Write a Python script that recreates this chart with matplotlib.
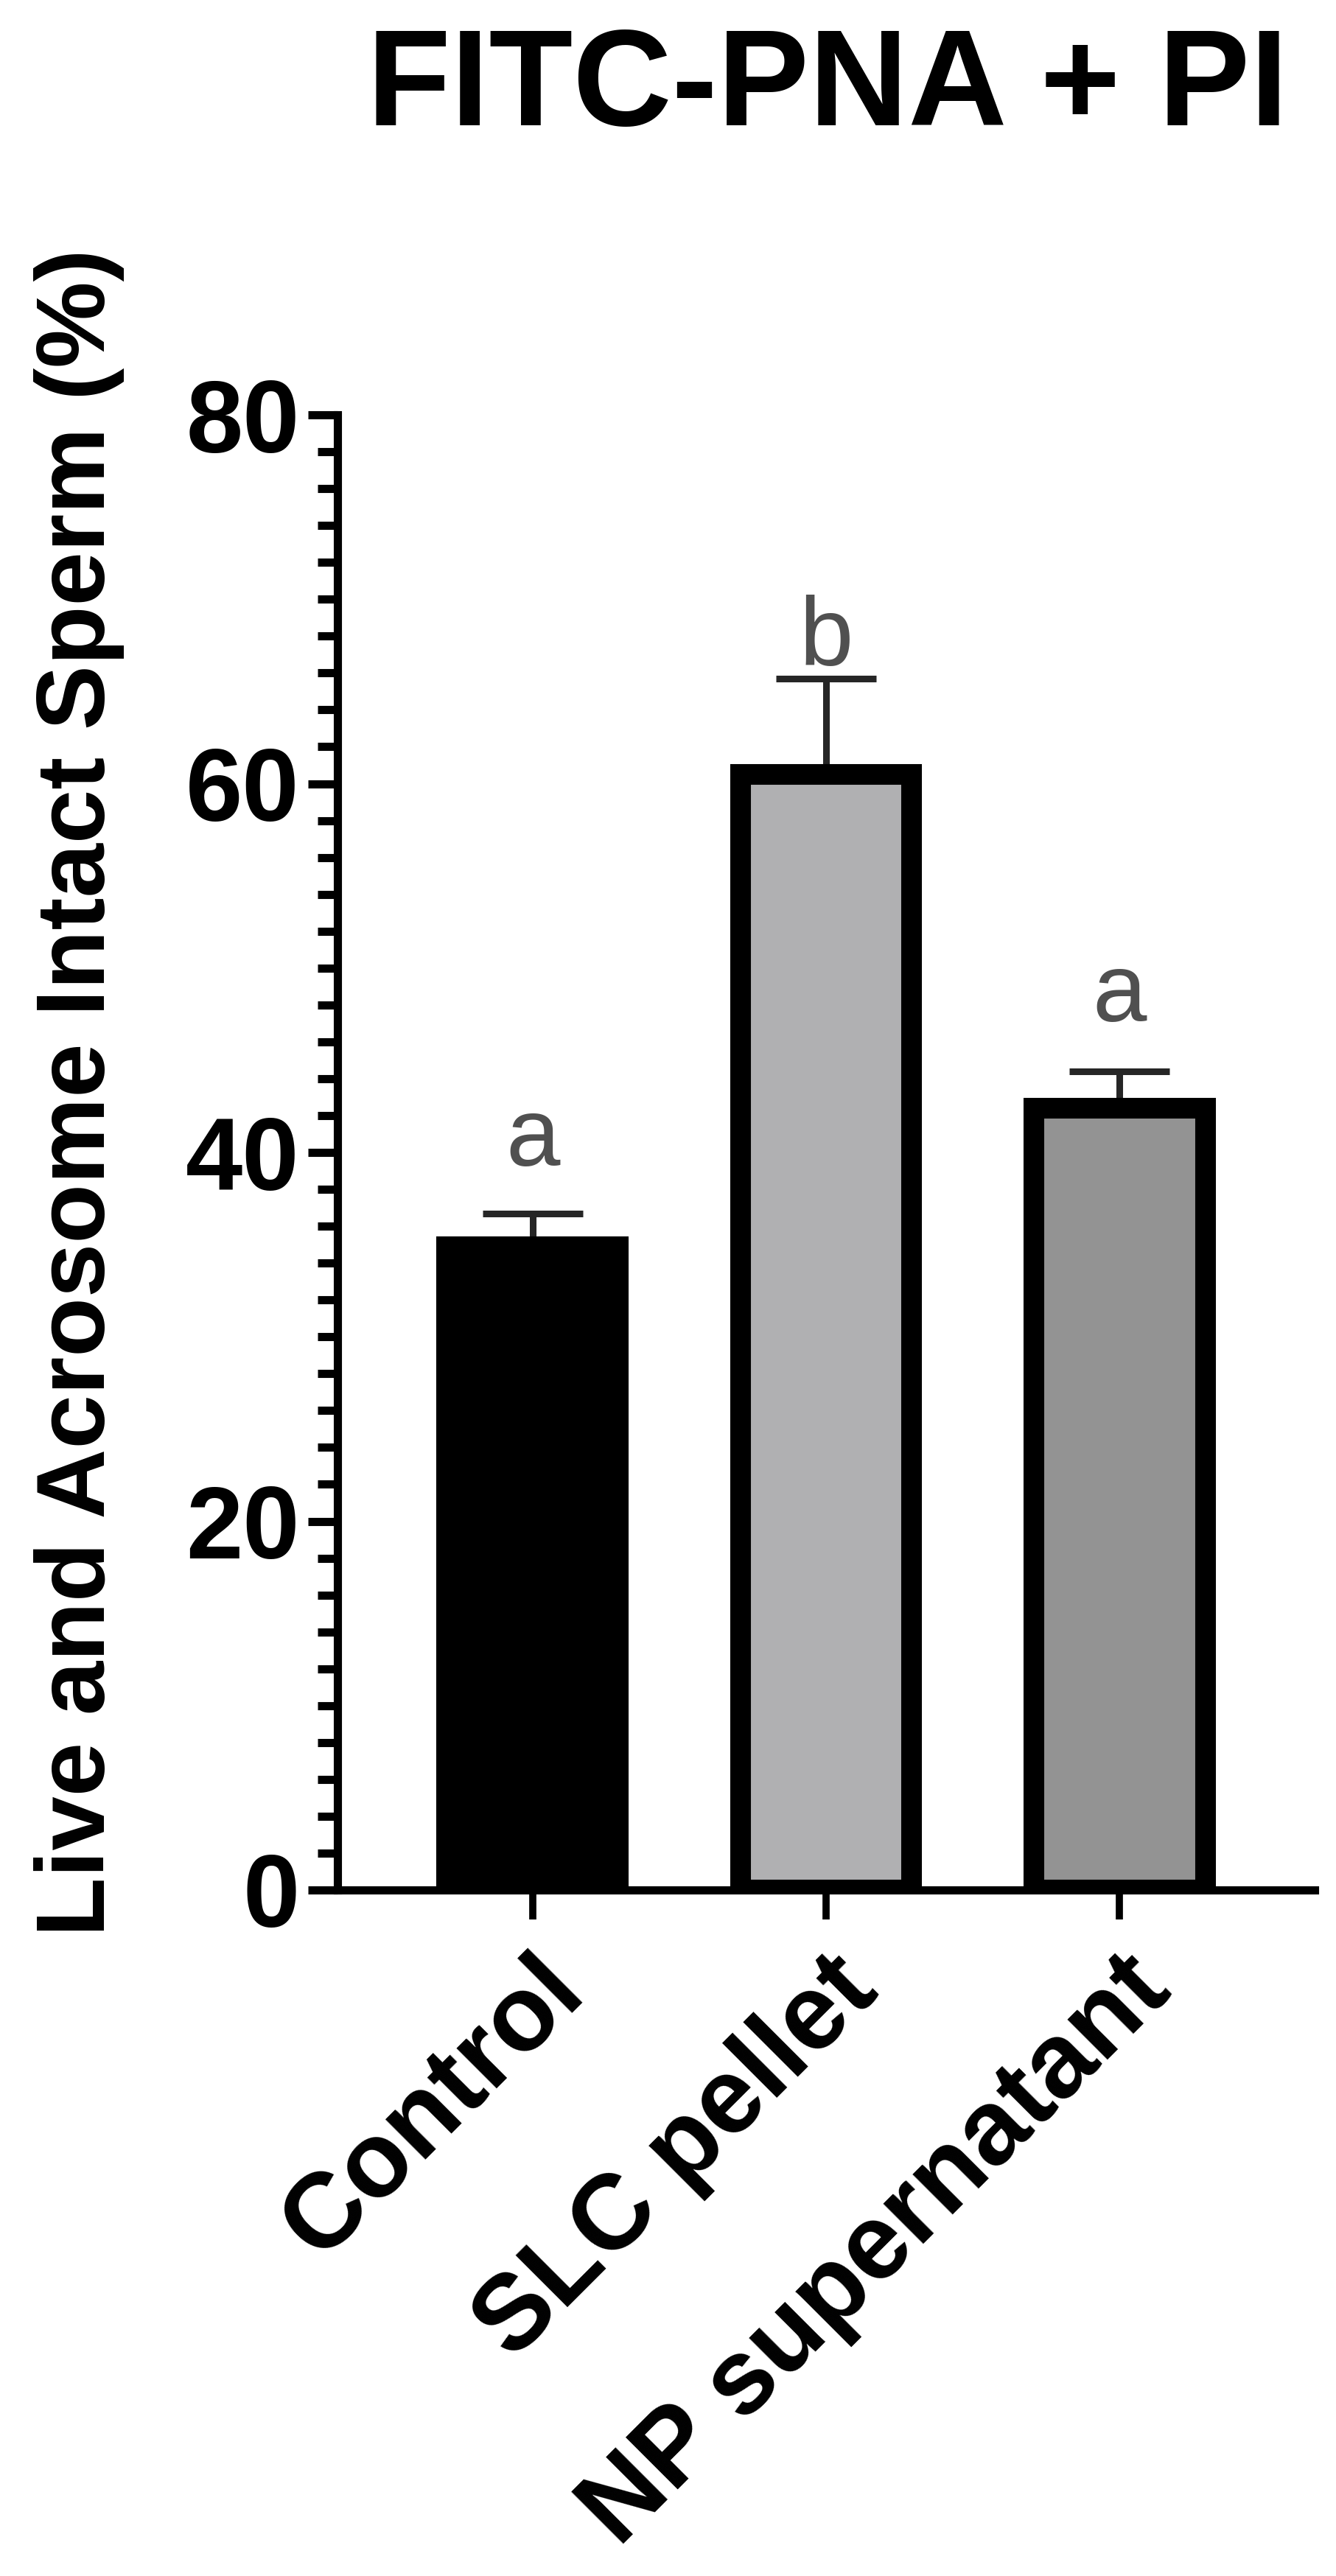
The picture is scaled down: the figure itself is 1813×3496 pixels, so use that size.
import matplotlib
matplotlib.use("Agg")
import matplotlib.pyplot as plt
from matplotlib.ticker import MultipleLocator
from matplotlib.transforms import ScaledTranslation

categories = ["Control", "SLC pellet", "NP supernatant"]
means = [34.9, 60.5, 42.4]
sem = [1.8, 5.2, 2.0]
letters = ["a", "b", "a"]
letter_y = [39.3, 66.4, 47.1]
fill_colors = ["#000000", "#b0b0b2", "#939393"]
yticks = [0, 20, 40, 60, 80]

W, H, DPI = 1813, 3496, 100
plt.rcParams['font.family'] = ['Liberation Sans', 'DejaVu Sans']
fig = plt.figure(figsize=(W / DPI, H / DPI), dpi=DPI)
ax = fig.add_axes([458 / W, 1 - 2565 / H, (1784 - 458) / W, (2565 - 563) / H])

x = list(range(len(categories)))
ax.bar(x, means, width=0.585, color=fill_colors, edgecolor="black",
       linewidth=20.2, zorder=3)
ax.errorbar(x, means, yerr=[[0] * len(sem), sem], fmt="none",
            ecolor="#262626", elinewidth=6.5, capsize=49, capthick=6.5,
            zorder=2)
for xi, lt, ly in zip(x, letters, letter_y):
    ax.text(xi, ly, lt, ha="center", va="baseline", fontsize=95,
            color="#505050")

ax.set_xlim(-0.665, 2.665)
ax.set_ylim(0, 80)
ax.set_yticks(yticks)
ax.yaxis.set_minor_locator(MultipleLocator(2))
ax.set_xticks(x)
ax.set_xticklabels(categories, rotation=45, ha="right",
                   rotation_mode="anchor", fontsize=104, fontweight="bold")
shift = ScaledTranslation(-40 / DPI, 0, fig.dpi_scale_trans)
for lab in ax.get_xticklabels():
    lab.set_transform(lab.get_transform() + shift)
for lab in ax.get_yticklabels():
    lab.set_fontsize(100)
    lab.set_fontweight("bold")

for s in ["top", "right"]:
    ax.spines[s].set_visible(False)
for s in ["left", "bottom"]:
    ax.spines[s].set_linewidth(8)
ax.tick_params(axis="y", which="major", length=29, width=8, pad=8)
ax.tick_params(axis="y", which="minor", length=19.5, width=8)
ax.tick_params(axis="x", which="major", length=29, width=7, pad=19)

fig.text(1123 / W, 1 - 122 / H, "FITC-PNA + PI", ha="center", va="center",
         fontsize=134, fontweight="bold")
fig.text(108 / W, 1 - 1483 / H, "Live and Acrosome Intact Sperm (%)",
         rotation=90, ha="center", va="center", fontsize=95,
         fontweight="bold")

fig.savefig("out.png", dpi=DPI, facecolor="white")
